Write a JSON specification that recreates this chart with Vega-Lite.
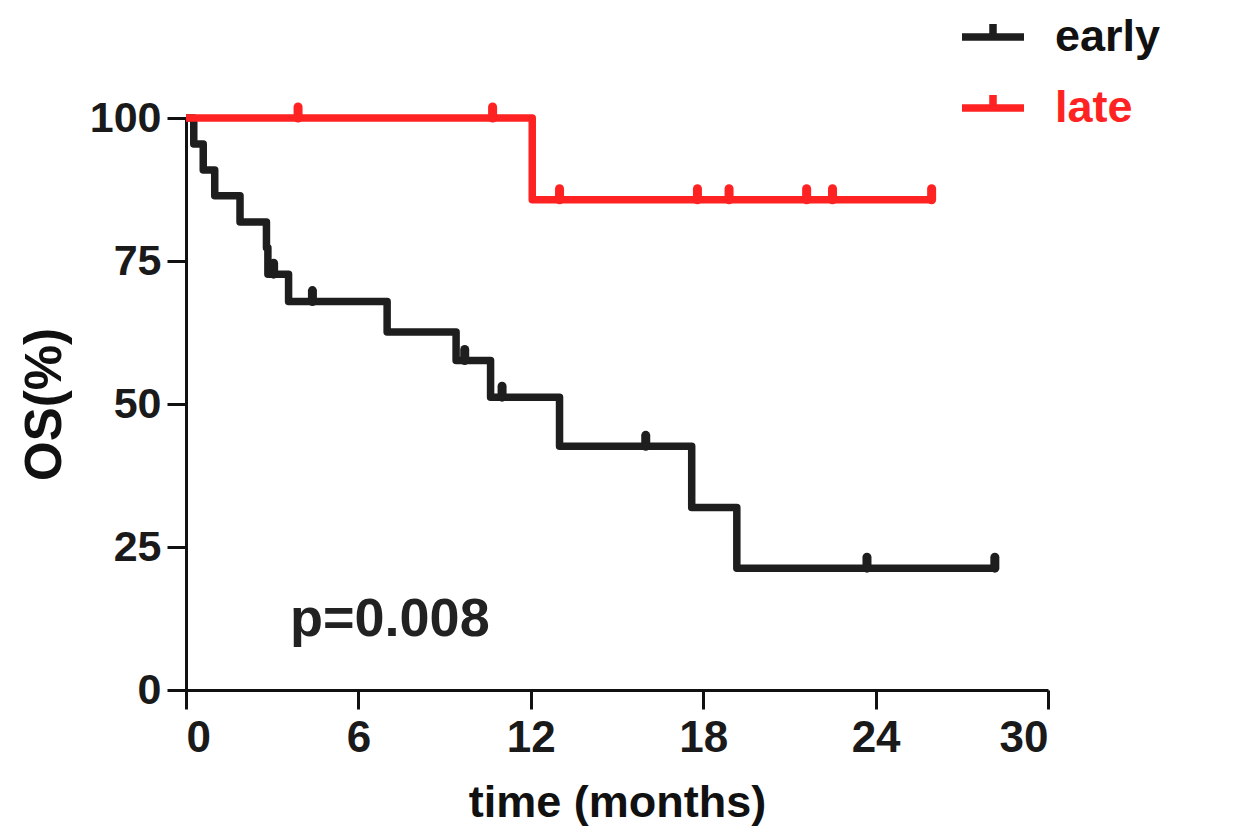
{
  "$schema": "https://vega.github.io/schema/vega-lite/v6.json",
  "width": 862,
  "height": 572,
  "autosize": {"type": "none"},
  "padding": {"left": 186, "top": 118, "right": 193, "bottom": 139},
  "background": "white",
  "config": {
    "view": {"stroke": null},
    "font": "Liberation Sans",
    "axis": {
      "grid": false,
      "domainColor": "#111111",
      "domainWidth": 3,
      "tickColor": "#111111",
      "tickWidth": 3,
      "tickSize": 19,
      "labelFont": "Liberation Sans",
      "labelFontWeight": "bold",
      "labelColor": "#1a1a1a",
      "titleFont": "Liberation Sans",
      "titleFontWeight": "bold",
      "titleColor": "#111111"
    }
  },
  "datasets": {
    "curves": [
      {"series": "early", "time": 0, "surv": 100},
      {"series": "early", "time": 0.27, "surv": 95.45},
      {"series": "early", "time": 0.6, "surv": 90.9},
      {"series": "early", "time": 1.0, "surv": 86.4},
      {"series": "early", "time": 1.88, "surv": 81.8},
      {"series": "early", "time": 2.8, "surv": 77.3},
      {"series": "early", "time": 2.85, "surv": 72.7},
      {"series": "early", "time": 3.57, "surv": 67.9},
      {"series": "early", "time": 7.0, "surv": 62.6},
      {"series": "early", "time": 9.4, "surv": 57.6},
      {"series": "early", "time": 10.6, "surv": 51.2},
      {"series": "early", "time": 13.0, "surv": 42.6},
      {"series": "early", "time": 17.6, "surv": 31.9},
      {"series": "early", "time": 19.17, "surv": 21.3},
      {"series": "early", "time": 28.15, "surv": 21.3},
      {"series": "late", "time": 0, "surv": 100},
      {"series": "late", "time": 12.05, "surv": 85.7},
      {"series": "late", "time": 26.0, "surv": 85.7}
    ],
    "censors": [
      {"series": "early", "time": 3.05, "surv": 72.7},
      {"series": "early", "time": 4.4, "surv": 67.9},
      {"series": "early", "time": 9.7, "surv": 57.6},
      {"series": "early", "time": 11.0, "surv": 51.2},
      {"series": "early", "time": 16.0, "surv": 42.6},
      {"series": "early", "time": 23.7, "surv": 21.3},
      {"series": "early", "time": 28.15, "surv": 21.3},
      {"series": "late", "time": 3.9, "surv": 100},
      {"series": "late", "time": 10.67, "surv": 100},
      {"series": "late", "time": 13.0, "surv": 85.7},
      {"series": "late", "time": 17.8, "surv": 85.7},
      {"series": "late", "time": 18.9, "surv": 85.7},
      {"series": "late", "time": 21.6, "surv": 85.7},
      {"series": "late", "time": 22.5, "surv": 85.7},
      {"series": "late", "time": 25.95, "surv": 85.7}
    ],
    "note": [
      {"label": "p=0.008", "time": 3.62, "surv": 9.5}
    ]
  },
  "layer": [
    {
      "data": {"name": "curves"},
      "mark": {"type": "line", "interpolate": "step-after", "strokeWidth": 7.5, "strokeJoin": "round"},
      "encoding": {
        "x": {
          "field": "time", "type": "quantitative",
          "scale": {"domain": [0, 30], "nice": false},
          "axis": {"values": [0, 6, 12, 18, 24, 30], "title": "time (months)", "labelFontSize": 44, "labelPadding": 7, "titleFontSize": 45, "titlePadding": 20}
        },
        "y": {
          "field": "surv", "type": "quantitative",
          "scale": {"domain": [0, 100], "nice": false},
          "axis": {"values": [0, 25, 50, 75, 100], "title": "OS(%)", "labelFontSize": 43, "labelPadding": 6, "titleFontSize": 51, "titlePadding": 18}
        },
        "color": {
          "field": "series", "type": "nominal",
          "scale": {"domain": ["early", "late"], "range": ["#1e1e1e", "#ff2222"]},
          "legend": {
            "title": null,
            "orient": "none",
            "legendX": 772,
            "legendY": -116,
            "padding": 0,
            "symbolType": "M-1,0L1,0M0,0L0,-0.42",
            "symbolSize": 3844,
            "symbolStrokeWidth": 7.5,
            "symbolFillColor": "transparent",
            "labelFontSize": 45,
            "labelFont": "Liberation Sans",
            "labelFontWeight": "bold",
            "labelOffset": 27,
            "rowPadding": 13,
            "encode": {
              "labels": {"update": {"fill": {"signal": "datum.value === 'late' ? '#ff2222' : '#111111'"}}}
            }
          }
        }
      }
    },
    {
      "data": {"name": "censors"},
      "mark": {"type": "rule", "strokeWidth": 9, "strokeCap": "round", "y2Offset": -11},
      "encoding": {
        "x": {"field": "time", "type": "quantitative"},
        "y": {"field": "surv", "type": "quantitative"},
        "y2": {"field": "surv"},
        "color": {"field": "series", "type": "nominal", "legend": null},
        "strokeWidth": {"value": 9}
      }
    },
    {
      "data": {"name": "note"},
      "mark": {"type": "text", "align": "left", "baseline": "alphabetic", "fontSize": 54, "fontWeight": "bold", "font": "Liberation Sans", "color": "#222222"},
      "encoding": {
        "x": {"field": "time", "type": "quantitative"},
        "y": {"field": "surv", "type": "quantitative"},
        "text": {"field": "label"}
      }
    }
  ]
}
